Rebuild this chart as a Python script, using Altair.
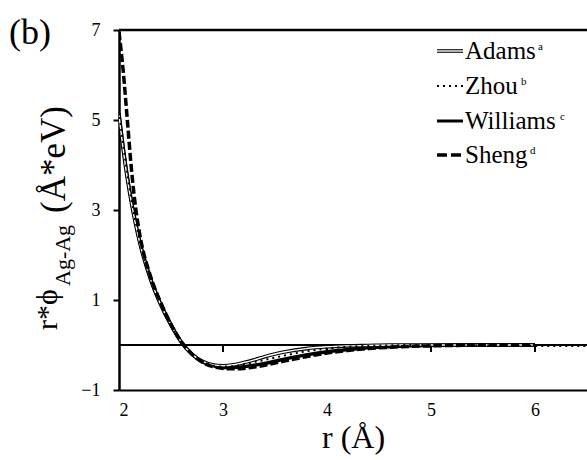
import altair as alt
import pandas as pd

# Scaled pair potential r*phi(r) for Ag-Ag from four EAM parameterisations
r_vals = [2.0, 2.04, 2.08, 2.12, 2.16, 2.2, 2.3, 2.4, 2.5, 2.6, 2.7, 2.8, 2.9,
          3.0, 3.1, 3.2, 3.3, 3.4, 3.5, 3.6, 3.8, 4.0, 4.2, 4.4, 4.6, 4.8,
          5.0, 5.25, 5.5, 5.75, 6.0, 6.25, 6.5]

adams = [5.1, 4.35, 3.7, 3.15, 2.68, 2.27, 1.48, 0.9, 0.44, 0.06, -0.2, -0.36, -0.44,
         -0.46, -0.44, -0.39, -0.33, -0.26, -0.2, -0.15, -0.08, -0.04, -0.02, -0.01, 0.0, 0.0,
         0.0, 0.0, 0.0, 0.0, 0.0, None, None]

zhou = [5.2, 4.45, 3.8, 3.22, 2.74, 2.32, 1.5, 0.92, 0.45, 0.06, -0.2, -0.37, -0.45,
        -0.48, -0.47, -0.43, -0.38, -0.33, -0.28, -0.23, -0.14, -0.08, -0.04, -0.02, -0.01, 0.0,
        0.0, 0.0, -0.01, -0.01, -0.02, -0.02, -0.02]

williams = [5.15, 4.4, 3.75, 3.2, 2.72, 2.3, 1.5, 0.92, 0.45, 0.06, -0.2, -0.37, -0.46,
            -0.5, -0.5, -0.48, -0.45, -0.41, -0.36, -0.31, -0.22, -0.15, -0.1, -0.06, -0.04, -0.02,
            -0.01, 0.0, 0.0, 0.0, 0.0, None, None]

sheng = [6.95, 6.1, 5.0, 3.9, 3.05, 2.45, 1.55, 0.95, 0.46, 0.07, -0.2, -0.38, -0.48,
         -0.52, -0.53, -0.52, -0.49, -0.45, -0.4, -0.35, -0.26, -0.18, -0.12, -0.08, -0.05, -0.03,
         -0.02, -0.01, 0.0, 0.0, 0.0, None, None]

series_names = ["Adams", "Zhou", "Williams", "Sheng"]
series_sups = ["a", "b", "c", "d"]
x_tick_values = [2, 3, 4, 5, 6]
y_tick_values = [-1, 1, 3, 5, 7]
zero_line_ticks = [3, 4, 5, 6]

rows = []
for name, vals in zip(series_names, [adams, zhou, williams, sheng]):
    for r, v in zip(r_vals, vals):
        if v is not None:
            rows.append({"r": r, "phi": v, "series": name})
df = pd.DataFrame(rows)

FONT = "'Liberation Serif', 'Times New Roman', Times, serif"
W, H = 468, 360

x_scale = alt.Scale(domain=[2, 6.5], nice=False, zero=False)
y_scale = alt.Scale(domain=[-1, 7], nice=False, zero=False)

x_axis = alt.Axis(values=x_tick_values, ticks=False, tickSize=0, labelPadding=11,
                  labelFont=FONT, labelFontSize=18, labelColor="black",
                  domainColor="black", domainWidth=2, grid=False,
                  title="r (Å)", titleFont=FONT, titleFontSize=32,
                  titleFontWeight="normal", titleColor="black",
                  titleBaseline="alphabetic", titleY=57)
y_axis = alt.Axis(values=y_tick_values, tickSize=6, tickWidth=2, tickColor="black",
                  labelPadding=13, labelFont=FONT, labelFontSize=18, labelColor="black",
                  domainColor="black", domainWidth=2.5, grid=False, title=None)

X = alt.X("r:Q", scale=x_scale, axis=x_axis)
Y = alt.Y("phi:Q", scale=y_scale, axis=y_axis)


def curve(name, **style):
    return (alt.Chart(df)
            .transform_filter(alt.datum.series == name)
            .mark_line(interpolate="monotone", clip=True, **style)
            .encode(x=X, y=Y))


one = pd.DataFrame({"k": [0]})


def rule_at(yval, width):
    return alt.Chart(pd.DataFrame({"phi": [yval]})).mark_rule(
        color="black", strokeWidth=width).encode(y=alt.Y("phi:Q", scale=y_scale, axis=y_axis))


zero_line = rule_at(0, 1.8)
top_border = rule_at(7, 2.5)

# short downward ticks hanging from the zero line (zero sits at 315 px in the plot)
zero_ticks = alt.Chart(pd.DataFrame({"r": zero_line_ticks, "phi": [0] * len(zero_line_ticks)})).mark_rule(
    strokeWidth=2, color="black"
).encode(x=X, y=Y, y2=alt.value(322))

lines = [
    curve("Williams", color="black", strokeWidth=3.4),
    curve("Adams", color="black", strokeWidth=3.6),
    curve("Adams", color="white", strokeWidth=1.4),
    curve("Zhou", color="black", strokeWidth=2, strokeDash=[2, 4]),
    curve("Sheng", color="black", strokeWidth=3.5, strokeDash=[8, 3]),
]


def label(text, size, x, y, **kw):
    return alt.Chart(pd.DataFrame({"t": [text]})).mark_text(
        font=FONT, fontSize=size, color="black", x=x, y=y, **kw
    ).encode(text="t:N")


# panel tag and rotated y title with subscript
texts = [
    label("(b)", 36, -89, 14, align="center", baseline="alphabetic"),
    label("r*ϕ", 30, -62, 300, angle=270, align="left", baseline="alphabetic"),
    label("Ag-Ag", 22, -49, 256, angle=270, align="left", baseline="alphabetic"),
    label("(Å*eV)", 35, -54, 183, angle=270, align="left", baseline="alphabetic"),
]

# hand-built legend
leg_x0, leg_x1, leg_text_x = 318, 344, 346
row_base = [29, 64, 99, 133]
sup_x = [419, 402, 441, 411]
legend = []
sym_styles = [
    [dict(strokeWidth=3.6, color="black"), dict(strokeWidth=1.4, color="white")],
    [dict(strokeWidth=2, color="black", strokeDash=[2, 4])],
    [dict(strokeWidth=3, color="black")],
    [dict(strokeWidth=3.5, color="black", strokeDash=[10, 4])],
]
for i, name in enumerate(series_names):
    for st in sym_styles[i]:
        legend.append(alt.Chart(one).mark_rule(**st).encode(
            x=alt.value(leg_x0), x2=alt.value(leg_x1), y=alt.value(row_base[i] - 8)))
    legend.append(label(name, 25, leg_text_x, row_base[i], align="left", baseline="alphabetic"))
    legend.append(label(series_sups[i], 11, sup_x[i], row_base[i] - 9, align="left", baseline="alphabetic"))

chart = alt.layer(
    zero_line, top_border, zero_ticks, *lines, *texts, *legend
).properties(
    width=W, height=H,
    padding={"left": 119, "top": 30, "right": 0, "bottom": 70},
    autosize=alt.AutoSizeParams(type="none"),
    background="white",
).configure_view(stroke=None)

chart.save("out.html", embed_options={"renderer": "svg", "actions": False})
